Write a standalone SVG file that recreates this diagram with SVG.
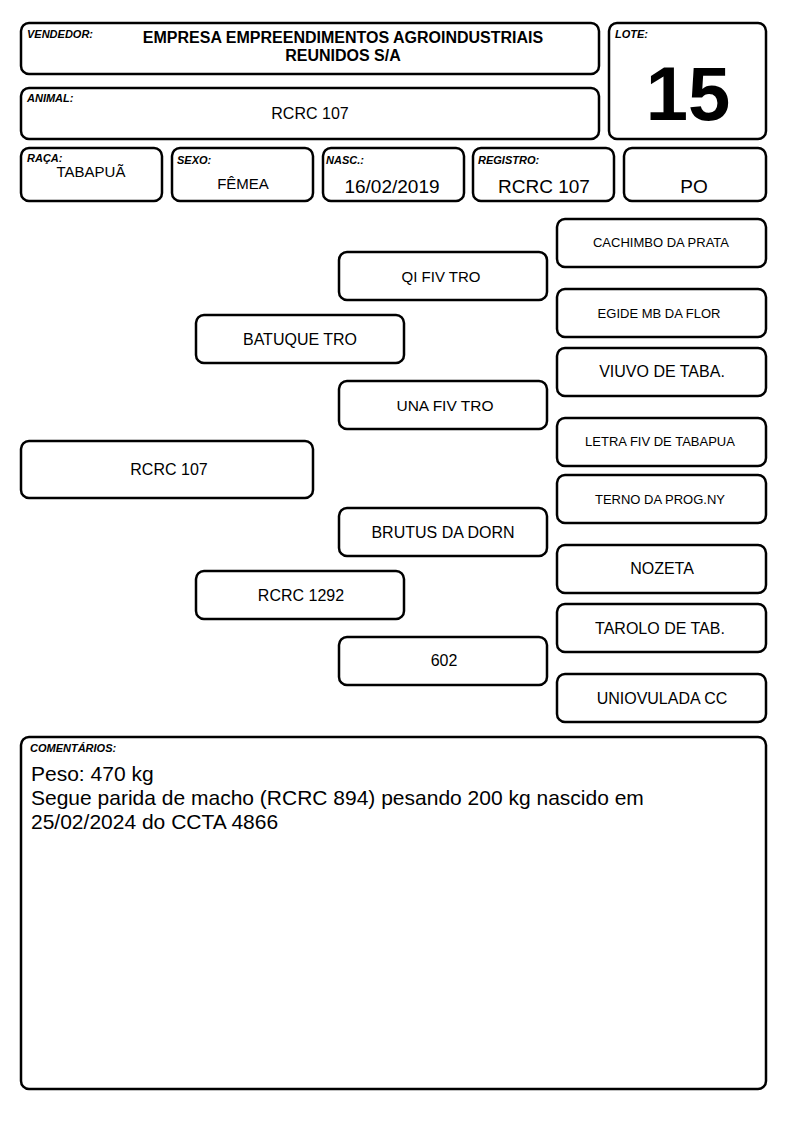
<svg xmlns="http://www.w3.org/2000/svg" width="794" height="1123" viewBox="0 0 794 1123">
<style>
.b{fill:#fff;stroke:#000;stroke-width:2.5}
.lb{font-family:"Liberation Sans",Arial,sans-serif;font-size:11px;font-weight:bold;font-style:italic}
.t{font-family:"Liberation Sans",Arial,sans-serif;text-anchor:middle;fill:#000}
.c{font-family:"Liberation Sans",Arial,sans-serif;font-size:21px}
</style>
<rect width="794" height="1123" fill="#fff"/>
<g id="vendedor">
<rect class="b" x="21" y="23" width="578" height="51" rx="8"/>
<text class="lb" x="27" y="38">VENDEDOR:</text>
<text class="t" x="343" y="43" font-size="16" font-weight="bold">EMPRESA EMPREENDIMENTOS AGROINDUSTRIAIS</text>
<text class="t" x="343" y="61" font-size="16" font-weight="bold">REUNIDOS S/A</text>
</g>
<g id="lote">
<rect class="b" x="609" y="23" width="157" height="116" rx="8"/>
<text class="lb" x="615" y="38">LOTE:</text>
<text class="t" x="688" y="120" font-size="76" font-weight="bold">15</text>
</g>
<g id="animal">
<rect class="b" x="21" y="88" width="578" height="51" rx="8"/>
<text class="lb" x="27" y="102">ANIMAL:</text>
<text class="t" x="310" y="119" font-size="16">RCRC 107</text>
</g>
<g id="raca">
<rect class="b" x="21" y="148" width="141" height="53" rx="8"/>
<text class="lb" x="27" y="162">RAÇA:</text>
<text class="t" x="91" y="177" font-size="15">TABAPUÃ</text>
</g>
<g id="sexo">
<rect class="b" x="172" y="148" width="141" height="53" rx="8"/>
<text class="lb" x="177" y="164">SEXO:</text>
<text class="t" x="243" y="189" font-size="15">FÊMEA</text>
</g>
<g id="nasc">
<rect class="b" x="323" y="148" width="141" height="53" rx="8"/>
<text class="lb" x="326" y="164">NASC.:</text>
<text class="t" x="392" y="193" font-size="19">16/02/2019</text>
</g>
<g id="registro">
<rect class="b" x="473" y="148" width="141" height="53" rx="8"/>
<text class="lb" x="478" y="164">REGISTRO:</text>
<text class="t" x="544" y="193" font-size="19">RCRC 107</text>
</g>
<g id="po">
<rect class="b" x="624" y="148" width="142" height="53" rx="8"/>
<text class="t" x="694" y="193" font-size="19">PO</text>
</g>
<g id="n-rcrc107">
<rect class="b" x="21" y="441" width="292" height="57" rx="8"/>
<text class="t" x="169" y="475" font-size="16">RCRC 107</text>
</g>
<g id="n-batuque">
<rect class="b" x="196" y="315" width="208" height="48" rx="8"/>
<text class="t" x="300" y="345" font-size="16">BATUQUE TRO</text>
</g>
<g id="n-rcrc1292">
<rect class="b" x="196" y="571" width="208" height="48" rx="8"/>
<text class="t" x="301" y="601" font-size="16">RCRC 1292</text>
</g>
<g id="n-qi">
<rect class="b" x="339" y="252" width="208" height="48" rx="8"/>
<text class="t" x="441" y="282" font-size="15">QI FIV TRO</text>
</g>
<g id="n-una">
<rect class="b" x="339" y="381" width="208" height="48" rx="8"/>
<text class="t" x="445" y="411" font-size="15.5">UNA FIV TRO</text>
</g>
<g id="n-brutus">
<rect class="b" x="339" y="508" width="208" height="48" rx="8"/>
<text class="t" x="443" y="538" font-size="16">BRUTUS DA DORN</text>
</g>
<g id="n-602">
<rect class="b" x="339" y="637" width="208" height="48" rx="8"/>
<text class="t" x="444" y="666" font-size="16">602</text>
</g>
<g id="n-cachimbo">
<rect class="b" x="557" y="219" width="209" height="48" rx="8"/>
<text class="t" x="661" y="247" font-size="13">CACHIMBO DA PRATA</text>
</g>
<g id="n-egide">
<rect class="b" x="557" y="289" width="209" height="48" rx="8"/>
<text class="t" x="659" y="318" font-size="13">EGIDE MB DA FLOR</text>
</g>
<g id="n-viuvo">
<rect class="b" x="557" y="348" width="209" height="48" rx="8"/>
<text class="t" x="662" y="377" font-size="16">VIUVO DE TABA.</text>
</g>
<g id="n-letra">
<rect class="b" x="557" y="418" width="209" height="48" rx="8"/>
<text class="t" x="660" y="446" font-size="13">LETRA FIV DE TABAPUA</text>
</g>
<g id="n-terno">
<rect class="b" x="557" y="475" width="209" height="48" rx="8"/>
<text class="t" x="660" y="504" font-size="13">TERNO DA PROG.NY</text>
</g>
<g id="n-nozeta">
<rect class="b" x="557" y="545" width="209" height="48" rx="8"/>
<text class="t" x="662" y="574" font-size="16">NOZETA</text>
</g>
<g id="n-tarolo">
<rect class="b" x="557" y="604" width="209" height="48" rx="8"/>
<text class="t" x="660" y="634" font-size="16">TAROLO DE TAB.</text>
</g>
<g id="n-uniovulada">
<rect class="b" x="557" y="674" width="209" height="48" rx="8"/>
<text class="t" x="662" y="704" font-size="16">UNIOVULADA CC</text>
</g>
<g id="connectors"></g>
<g id="comentarios">
<rect class="b" x="21" y="737" width="745" height="352" rx="8"/>
<text class="lb" x="30" y="752">COMENTÁRIOS:</text>
<text class="c" x="31" y="781">Peso: 470 kg</text>
<text class="c" x="31" y="805">Segue parida de macho (RCRC 894) pesando 200 kg nascido em</text>
<text class="c" x="31" y="829">25/02/2024 do CCTA 4866</text>
</g>
</svg>
